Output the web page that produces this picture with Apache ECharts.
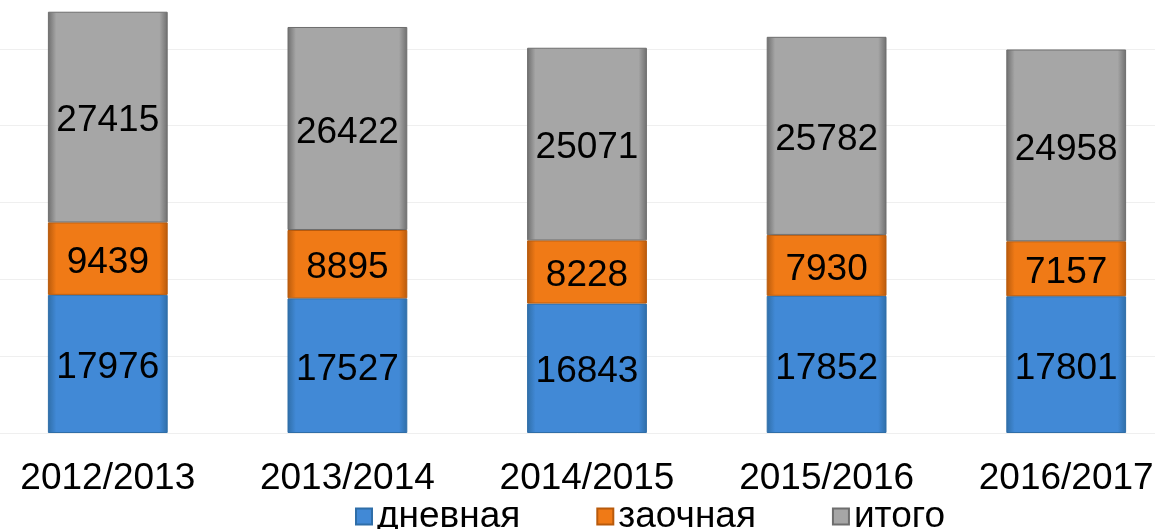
<!DOCTYPE html>
<html>
<head>
<meta charset="utf-8">
<script src="https://cdn.jsdelivr.net/npm/echarts@6/dist/echarts.min.js"></script>
<style>
  html, body { margin: 0; padding: 0; background: #fff; }
  #chart { width: 1155px; height: 529px; }
</style>
</head>
<body>
<div id="chart"></div>
<script>
var years = ['2012/2013', '2013/2014', '2014/2015', '2015/2016', '2016/2017']
var dnevnaya = [17976, 17527, 16843, 17852, 17801]
var zaochnaya = [9439, 8895, 8228, 7930, 7157]
var itogo = [27415, 26422, 25071, 25782, 24958]

var font = 'Arial, "Liberation Sans", sans-serif'

// side shading to hint the bevel of the original bars
function bevel(edge, mid) {
  return new echarts.graphic.LinearGradient(0, 0, 1, 0, [
    { offset: 0, color: edge },
    { offset: 0.07, color: mid },
    { offset: 0.93, color: mid },
    { offset: 1, color: edge }
  ])
}

function makeSeries(name, data, edge, mid) {
  return {
    name: name,
    type: 'bar',
    stack: 'all',
    barWidth: '50%',
    data: data,
    itemStyle: {
      color: bevel(edge, mid),
      borderColor: edge,
      borderWidth: 1
    },
    label: {
      show: true,
      position: 'inside',
      offset: [0, 4],
      color: '#000',
      fontSize: 37,
      fontFamily: font
    }
  }
}

var chart = echarts.init(document.getElementById('chart'))

var option = {
  animation: false,
  color: ['#4189d6', '#f07a16', '#a6a6a6'],
  grid: {
    outerBoundsMode: 'none',
    containLabel: false,
    left: -12,
    right: -31,
    top: -28,
    bottom: 96
  },
  legend: {
    left: 350,
    top: 493,
    itemWidth: 16,
    itemHeight: 16,
    itemGap: 76,
    icon: 'rect',
    textStyle: { fontSize: 37, color: '#000', fontFamily: font },
    data: ['дневная', 'заочная', 'итого']
  },
  xAxis: {
    type: 'category',
    data: years,
    axisLine: { show: false },
    axisTick: { show: false },
    axisLabel: {
      color: '#000',
      fontSize: 37,
      fontFamily: font,
      margin: 27
    }
  },
  yAxis: {
    type: 'value',
    min: 0,
    max: 60000,
    interval: 10000,
    axisLabel: { show: false },
    axisLine: { show: false },
    axisTick: { show: false },
    splitLine: { lineStyle: { color: '#efefef', width: 1 } }
  },
  series: [
    makeSeries('дневная', dnevnaya, '#2f6ea8', '#4189d6'),
    makeSeries('заочная', zaochnaya, '#b85a0c', '#f07a16'),
    makeSeries('итого', itogo, '#6e6e6e', '#a6a6a6')
  ]
}

option && chart.setOption(option)
</script>
</body>
</html>
